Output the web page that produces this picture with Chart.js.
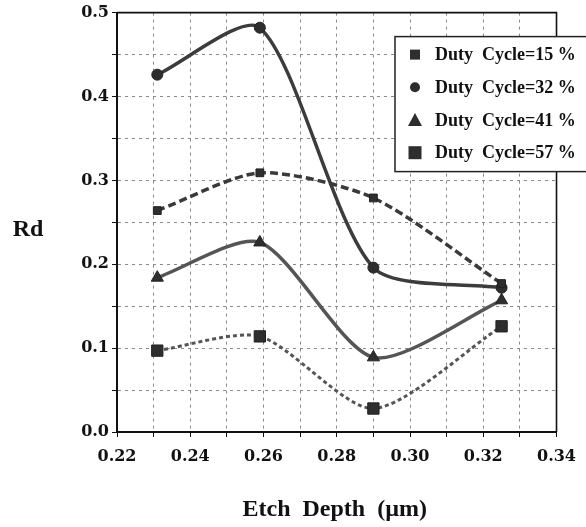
<!DOCTYPE html>
<html>
<head>
<meta charset="utf-8">
<script src="https://cdn.jsdelivr.net/npm/chart.js@4/dist/chart.umd.min.js"></script>
<style>
  html, body { margin: 0; padding: 0; background: #fff; }
  #wrap { width: 586px; height: 527px; position: relative; }
</style>
</head>
<body>
<div id="wrap"><canvas id="c" width="586" height="527"></canvas></div>
<script>
// ---- data ----
const etchDepth = [0.231, 0.259, 0.29, 0.325];
const dutyLabels = ['Duty  Cycle=15 %', 'Duty  Cycle=32 %', 'Duty  Cycle=41 %', 'Duty  Cycle=57 %'];
const rd15 = [0.264, 0.309, 0.279, 0.177];
const rd32 = [0.426, 0.482, 0.196, 0.172];
const rd41 = [0.184, 0.226, 0.089, 0.157];
const rd57 = [0.097, 0.114, 0.028, 0.126];
const xTicks = [0.22, 0.24, 0.26, 0.28, 0.30, 0.32, 0.34];
const yTicks = [0.0, 0.1, 0.2, 0.3, 0.4, 0.5];
const xTitle = 'Etch  Depth  (\u00b5m)';
const yTitle = 'Rd';

const pts = arr => arr.map((v, i) => ({x: etchDepth[i], y: v}));

const styles = [
  {pointStyle: 'rect', radius: 5.5, dash: [8, 4], color: '#3a3a3a', width: 3.5},
  {pointStyle: 'circle', radius: 5.5, dash: [], color: '#3c3c3c', width: 3.5},
  {pointStyle: 'triangle', radius: 7, dash: [], color: '#555', width: 3.5},
  {pointStyle: 'rect', radius: 8, dash: [4, 3], color: '#555', width: 3}
];
const series = [rd15, rd32, rd41, rd57];

const datasets = series.map((s, i) => ({
  label: dutyLabels[i],
  data: pts(s),
  borderColor: styles[i].color,
  borderWidth: styles[i].width,
  borderDash: styles[i].dash,
  tension: 0.25,
  pointStyle: styles[i].pointStyle,
  pointRadius: styles[i].radius,
  pointBackgroundColor: '#2e2e2e',
  pointBorderColor: '#222',
  pointBorderWidth: 1,
  fill: false
}));

const tickFont = {family: '"DejaVu Serif", serif', size: 16, weight: 'bold'};
const serifBold = size => 'bold ' + size + 'px "Liberation Serif", "Times New Roman", serif';

const overlay = {
  id: 'overlay',
  afterDraw(chart) {
    const ctx = chart.ctx;
    const a = chart.chartArea;
    ctx.save();
    // frame top/right
    ctx.strokeStyle = '#111';
    ctx.lineWidth = 1.6;
    ctx.beginPath();
    ctx.moveTo(a.left, a.top);
    ctx.lineTo(a.right, a.top);
    ctx.lineTo(a.right, a.bottom);
    ctx.stroke();

    // legend box
    const lx = a.left + 278, ly = a.top + 24, lw = 200, lh = 135;
    ctx.fillStyle = '#fff';
    ctx.fillRect(lx, ly, lw, lh);
    ctx.strokeStyle = '#222';
    ctx.lineWidth = 1.5;
    ctx.setLineDash([]);
    ctx.strokeRect(lx, ly, lw, lh);

    chart.data.datasets.forEach((ds, i) => {
      const cy = ly + 18 + i * 32.7;
      const mx = lx + 20;
      ctx.fillStyle = '#2e2e2e';
      ctx.strokeStyle = '#222';
      ctx.lineWidth = 1;
      const st = ds.pointStyle;
      if (st === 'rect') {
        const s = ds.pointRadius > 6 ? 13 : 10;
        ctx.fillRect(mx - s / 2, cy - s / 2, s, s);
      } else if (st === 'circle') {
        ctx.beginPath(); ctx.arc(mx, cy, 5, 0, Math.PI * 2); ctx.fill();
      } else if (st === 'triangle') {
        ctx.beginPath();
        ctx.moveTo(mx, cy - 7); ctx.lineTo(mx + 7, cy + 6); ctx.lineTo(mx - 7, cy + 6);
        ctx.closePath(); ctx.fill();
      }
      ctx.fillStyle = '#111';
      ctx.font = serifBold(18);
      ctx.textAlign = 'left';
      ctx.textBaseline = 'middle';
      ctx.fillText(ds.label, lx + 40, cy + 1);
    });

    // axis titles
    ctx.fillStyle = '#111';
    ctx.font = serifBold(24);
    ctx.textAlign = 'center';
    ctx.textBaseline = 'middle';
    ctx.fillText(xTitle, (a.left + a.right) / 2 - 2, a.bottom + 78);
    ctx.fillText(yTitle, 28, (a.top + a.bottom) / 2 + 7);
    ctx.restore();
  }
};

new Chart(document.getElementById('c'), {
  type: 'line',
  data: {datasets},
  options: {
    responsive: false,
    animation: false,
    layout: {padding: {top: 11, right: 24, left: 0, bottom: 0}},
    plugins: {legend: {display: false}, tooltip: {enabled: false}},
    scales: {
      x: {
        type: 'linear',
        min: 0.22, max: 0.34,
        ticks: {
          stepSize: 0.01,
          autoSkip: false,
          maxRotation: 0,
          padding: 10,
          color: '#111',
          font: tickFont,
          callback: v => {
            const t = xTicks.find(t => Math.abs(t - v) < 1e-6);
            return t !== undefined ? t.toFixed(2) : '';
          }
        },
        grid: {color: '#8a8a8a', lineWidth: 1, tickLength: 5, tickColor: '#111'},
        border: {display: true, color: '#111', width: 2, dash: [3, 4]},
        afterFit: s => { s.height = 95; }
      },
      y: {
        type: 'linear',
        min: 0, max: 0.5,
        ticks: {
          stepSize: 0.05,
          autoSkip: false,
          padding: 3,
          color: '#111',
          font: tickFont,
          callback: v => {
            const t = yTicks.find(t => Math.abs(t - v) < 1e-6);
            return t !== undefined ? t.toFixed(1) : '';
          }
        },
        grid: {color: '#8a8a8a', lineWidth: 1, tickLength: 5, tickColor: '#111'},
        border: {display: true, color: '#111', width: 2, dash: [3, 4]},
        afterFit: s => { s.width = 117; }
      }
    }
  },
  plugins: [overlay]
});
</script>
</body>
</html>
